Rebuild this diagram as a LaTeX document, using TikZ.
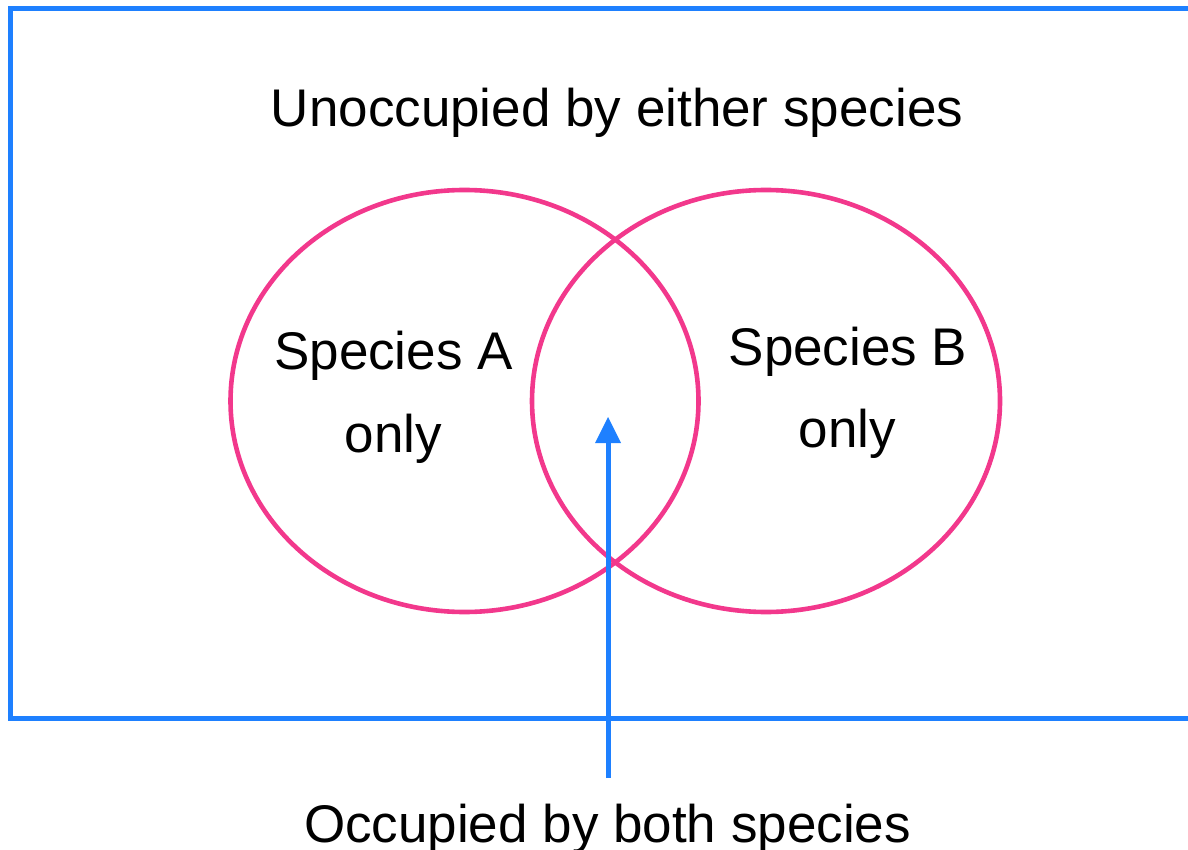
\documentclass[tikz,border=0pt]{standalone}
\usepackage{fontspec}
\setmainfont{Liberation Sans}
\usetikzlibrary{shapes.geometric,arrows.meta}
\definecolor{frameblue}{RGB}{30,128,255}
\definecolor{setpink}{RGB}{242,56,140}
\tikzset{
  frameline/.style={draw=frameblue,line width=5pt,line join=miter},
  setring/.style={ellipse,draw=setpink,line width=4.6pt,minimum width=468pt,minimum height=422pt,inner sep=0pt},
  label/.style={anchor=base,inner sep=0pt,font=\fontsize{53}{64}\selectfont},
  pointer/.style={draw=frameblue,line width=5pt,-{Triangle[length=26pt,width=26pt,line width=0pt]}}
}
\begin{document}
\begin{tikzpicture}[x=1pt,y=-1pt]
  \useasboundingbox (0,0) rectangle (1188,850);
  % universe frame (right side runs off the page)
  \draw[frameline] (1210,8.5) -- (10.5,8.5) -- (10.5,718.5) -- (1210,718.5);
  % the two sets
  \node[setring] (setA) at (464.5,401) {};
  \node[setring] (setB) at (766,401) {};
  % labels
  \node[label] (outside) at (617,127) {Unoccupied by either species};
  \node[label] (alabel1) at (393.5,369) {Species A};
  \node[label] (alabel2) at (393.5,452) {only};
  \node[label] (blabel1) at (848,365) {Species B};
  \node[label] (blabel2) at (847.5,447) {only};
  \node[label] (both) at (607.5,842) {Occupied by both species};
  % pointer into the overlap
  \coordinate (ptail) at (608,778);
  \coordinate (phead) at (608,417);
  \draw[pointer] (ptail) -- (phead);
\end{tikzpicture}
\end{document}
